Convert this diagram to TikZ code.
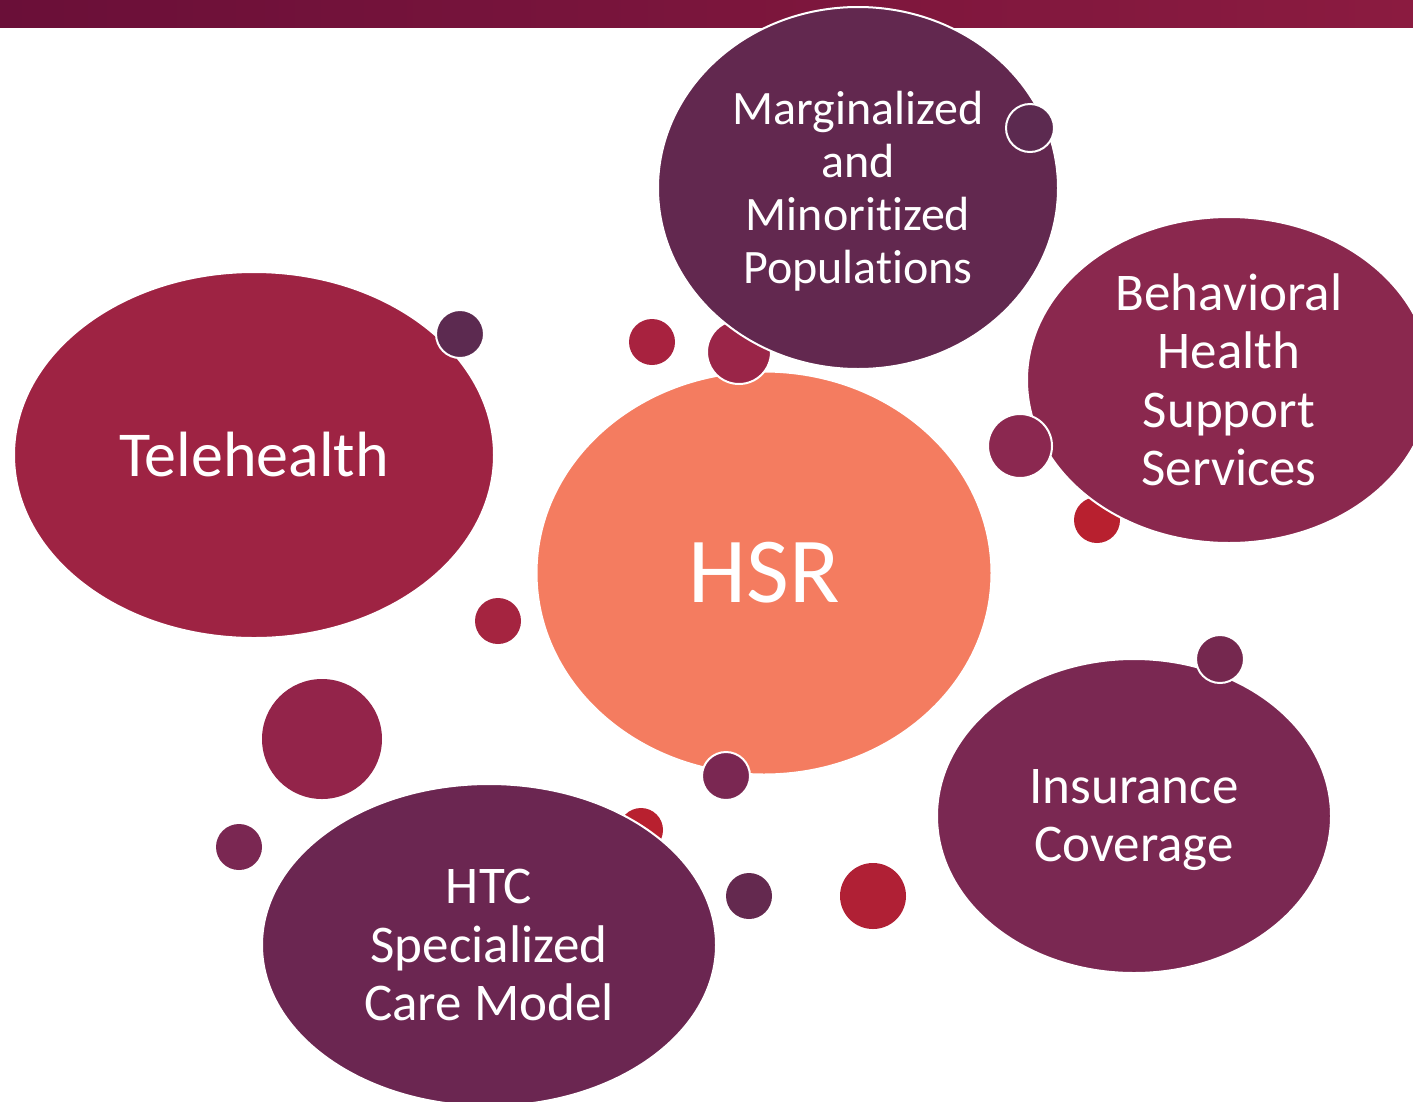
\documentclass[tikz,border=0pt]{standalone}
\usepackage{fontspec}
\setmainfont[Ligatures={NoCommon}]{Carlito}
\usetikzlibrary{shapes.geometric}
\definecolor{barL}{HTML}{6A0F38}
\definecolor{barR}{HTML}{8B1B40}
\definecolor{cTele}{HTML}{9E2343}
\definecolor{cMarg}{HTML}{62284F}
\definecolor{cBeh}{HTML}{8A284E}
\definecolor{cIns}{HTML}{7A2852}
\definecolor{cHTC}{HTML}{6B2651}
\definecolor{cHSR}{HTML}{F47C60}
\definecolor{dDark}{HTML}{5C2A50}
\definecolor{dRed}{HTML}{A8223F}
\definecolor{dRose}{HTML}{9A2548}
\definecolor{dBeh}{HTML}{8B2850}
\definecolor{dRed2}{HTML}{B8202F}
\definecolor{dRed3}{HTML}{A52440}
\definecolor{dBig}{HTML}{93244A}
\definecolor{dPlum}{HTML}{7A2752}
\definecolor{dPlum2}{HTML}{64294F}
\definecolor{dRed4}{HTML}{B02035}
\definecolor{dPlum3}{HTML}{75284F}
\tikzset{
  bubble/.style={ellipse, draw=white, line width=2pt, inner sep=0pt, text=white, align=center,
    font=\fontsize{53}{58.5}\selectfont},
  dot/.style={circle, draw=white, line width=2pt, inner sep=0pt}
}
\begin{document}
\begin{tikzpicture}[x=1pt,y=-1pt]
\useasboundingbox (0,0) rectangle (1413,1101);
\clip (0,0) rectangle (1413,1101);
% top bar
\shade[left color=barL, right color=barR] (0,0) rectangle (1413,27);
% Telehealth
\node[bubble, fill=cTele, minimum width=480pt, minimum height=366pt, font=\fontsize{64}{70}\selectfont] (tele) at (254,455) {Telehealth};
\node[dot, fill=dDark, minimum size=48pt] (d1) at (460,334) {};
% HSR
\node[bubble, fill=cHSR, minimum width=455pt, minimum height=403pt, font=\fontsize{93}{100}\selectfont] (hsr) at (764,573) {HSR};
\node[dot, fill=dRose, minimum size=64pt] (d2) at (739,352) {};
\node[dot, fill=dPlum, minimum size=48pt] (d3) at (726,776) {};
\node[dot, fill=dRed, minimum size=46pt, draw=none] (d4) at (652,342) {};
% Marginalized
\node[bubble, fill=cMarg, minimum width=400pt, minimum height=362pt, font=\fontsize{48}{53}\selectfont] (marg) at (858,188) {};
\node[text=white, align=center, font=\fontsize{48}{53}\selectfont] (margt) at (858,191) {Marginalized\\and\\Minoritized\\Populations};
\node[dot, fill=dDark, minimum size=48pt] (d5) at (1030,128) {};
% Behavioral
\node[dot, fill=dRed2, minimum size=46pt, draw=none] (d6) at (1097,520) {};
\node[bubble, fill=cBeh, minimum width=404pt, minimum height=326pt] (beh) at (1229,380) {Behavioral\\Health\\Support\\Services};
\node[dot, fill=dBeh, minimum size=64pt] (d7) at (1020,446) {};
% HTC
\node[dot, fill=dRed2, minimum size=44pt, draw=none] (d8) at (641,830) {};
\node[bubble, fill=cHTC, minimum width=454pt, minimum height=322pt] (htc) at (489,945) {HTC\\Specialized\\Care Model};
% Insurance
\node[bubble, fill=cIns, minimum width=394pt, minimum height=314pt] (ins) at (1134,816) {};
\node[text=white, align=center, font=\fontsize{53}{58.5}\selectfont] (inst) at (1134,820) {Insurance\\Coverage};
\node[dot, fill=dPlum3, minimum size=48pt] (d9) at (1220,659) {};
% loose dots
\node[dot, fill=dRed3, minimum size=46pt, draw=none] (d10) at (498,621) {};
\node[dot, fill=dBig, minimum size=120pt, draw=none] (d11) at (322,739) {};
\node[dot, fill=dPlum, minimum size=46pt, draw=none] (d12) at (239,847) {};
\node[dot, fill=dPlum2, minimum size=46pt, draw=none] (d13) at (749,896) {};
\node[dot, fill=dRed4, minimum size=66pt, draw=none] (d14) at (873,896) {};
\end{tikzpicture}
\end{document}
